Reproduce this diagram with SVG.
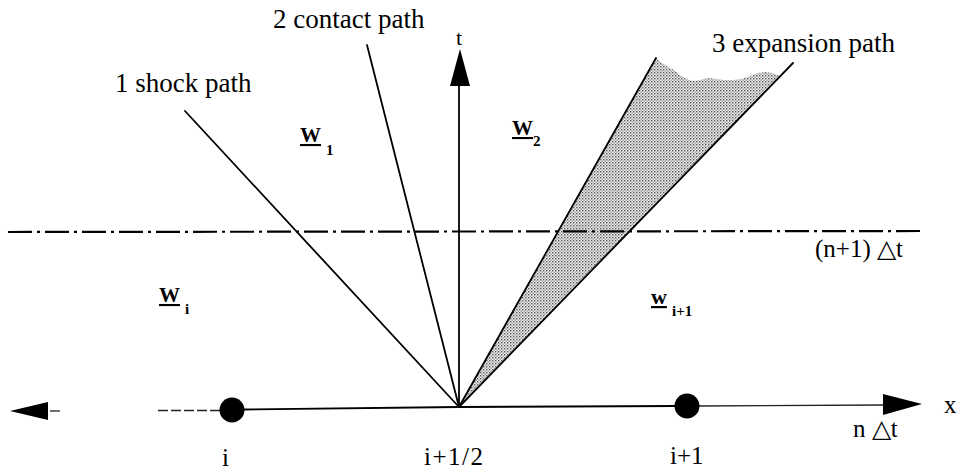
<svg xmlns="http://www.w3.org/2000/svg" width="960" height="473" viewBox="0 0 960 473">
<style>
  .ln { stroke: #000; stroke-width: 1.8; fill: none; stroke-linecap: round; }
  .thin { stroke: #222; stroke-width: 1.3; fill: none; }
  .lbl { font-family: "Liberation Serif", "Times New Roman", serif; fill: #000; }
  .big { font-size: 27px; }
  .w { font-size: 21px; font-weight: bold; text-decoration: underline; }
  .sub { font-size: 15px; font-weight: bold; }
  .ax { font-size: 25px; }
</style>
<defs>
  <pattern id="stip" width="3" height="3" patternUnits="userSpaceOnUse">
    <rect width="3" height="3" fill="#eeeeee"/>
    <rect x="0" y="0" width="1.4" height="1.4" fill="#555"/>
    <rect x="1.5" y="1.5" width="1.4" height="1.4" fill="#999"/>
  </pattern>
</defs>
<rect width="960" height="473" fill="#fff"/>

<g id="fan">
  <path d="M459,407 L656,58 L662,63 L668,67 L674,70 L680,75 L686,79 L693,81 L700,80 L708,78 L716,79 L724,80 L733,80 L742,79 L750,76 L758,73 L765,72 L772,73 L780,76 Z" fill="url(#stip)" stroke="none"/>
</g>

<g id="connectors">
  <line x1="8" y1="232" x2="923" y2="231" stroke="#000" stroke-width="2.2" stroke-dasharray="24 5 3 5"/>
  <line class="ln" x1="459" y1="407" x2="185" y2="111"/>
  <line class="ln" x1="459" y1="407" x2="367" y2="45"/>
  <line class="ln" x1="459" y1="407" x2="656" y2="58"/>
  <line class="ln" x1="459" y1="407" x2="793" y2="63"/>
  <line class="ln" x1="459" y1="407" x2="459" y2="84"/>
  <polygon points="460,49 450,86 470,86" fill="#000"/>
  <polygon points="10,411 48,402 48,420" fill="#000"/>
  <line class="thin" x1="50" y1="411" x2="60" y2="411"/>
  <line class="thin" x1="158" y1="410.5" x2="222" y2="410.5" stroke-dasharray="10 3"/>
  <line class="ln" x1="244" y1="409.5" x2="459" y2="407"/>
  <line class="ln" x1="459" y1="407" x2="676" y2="406"/>
  <line class="thin" x1="698" y1="406" x2="886" y2="405"/>
  <polygon points="922,404 883,394 883,415" fill="#000"/>
</g>

<g id="node-i"><circle cx="232" cy="410" r="12.5" fill="#000"/></g>
<g id="node-i1"><circle cx="687" cy="406" r="12.5" fill="#000"/></g>

<g id="labels">
  <text class="lbl big" x="115" y="92">1 shock path</text>
  <text class="lbl big" x="273" y="28">2 contact path</text>
  <text class="lbl big" x="712" y="52">3 expansion path</text>
  <text class="lbl" x="456" y="45" font-size="22">t</text>

  <text class="lbl w" x="300" y="142">W</text>
  <text class="lbl sub" x="326" y="155">1</text>
  <text class="lbl w" x="512" y="135">W</text>
  <text class="lbl sub" x="533" y="146">2</text>
  <text class="lbl w" x="159" y="302">W</text>
  <text class="lbl sub" x="185" y="314">i</text>
  <text class="lbl" x="651" y="304" font-size="22" font-weight="bold" text-decoration="underline">w</text>
  <text class="lbl sub" x="672" y="316">i+1</text>

  <text class="lbl ax" x="815" y="257">(n+1) △t</text>
  <text class="lbl ax" x="853" y="437">n  △t</text>
  <text class="lbl ax" x="944" y="413">x</text>
  <text class="lbl ax" x="222" y="466">i</text>
  <text class="lbl ax" x="424" y="465" font-size="27" letter-spacing="1.5">i+1/2</text>
  <text class="lbl ax" x="670" y="464">i+1</text>
</g>
</svg>
